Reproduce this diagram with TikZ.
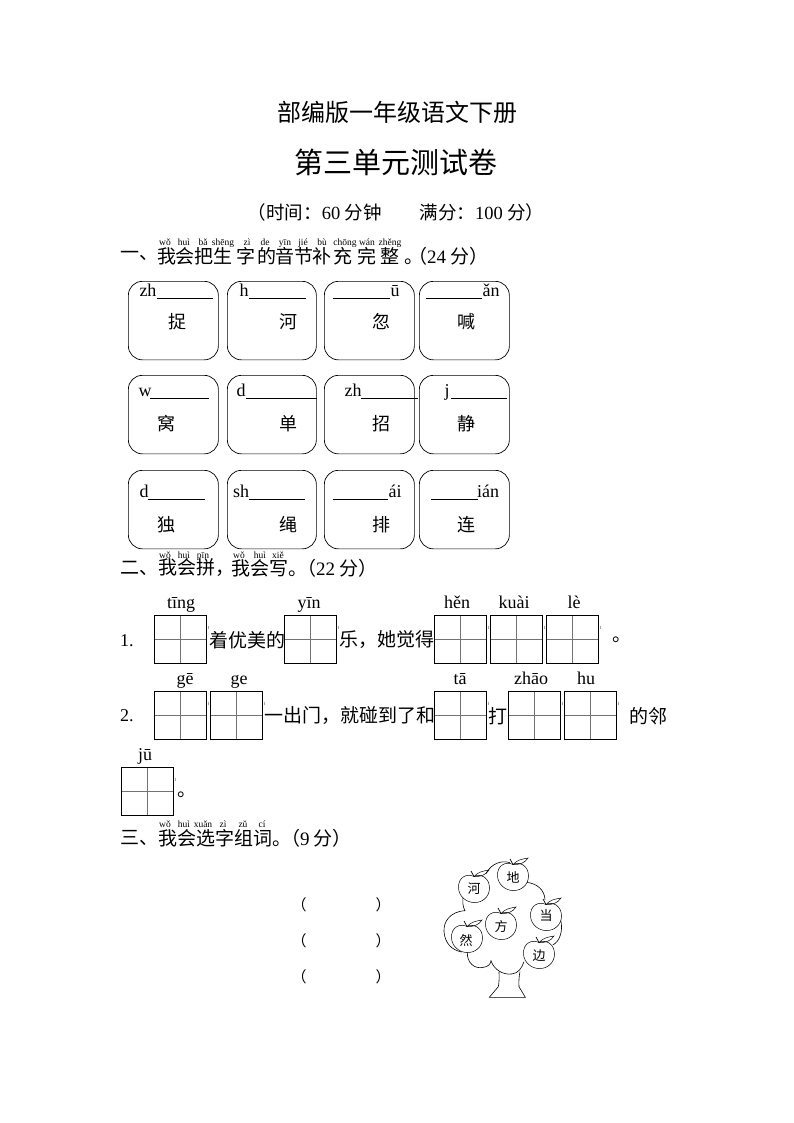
\documentclass[tikz,border=0pt]{standalone}
\usepackage{fontspec}
\setmainfont{Liberation Serif}
\newfontfamily\cjk{Noto Sans CJK SC}
\usetikzlibrary{positioning}
\tikzset{
  body/.style={inner sep=0pt, font=\fontsize{19}{19}\selectfont\cjk},
  cardchar/.style={inner sep=0pt, font=\fontsize{18}{18}\selectfont\cjk},
  py/.style={inner sep=0pt, anchor=base, font=\fontsize{9.5}{9.5}\selectfont},
  spell/.style={inner sep=0pt, anchor=base, font=\fontsize{18}{18}\selectfont},
  cellbox/.style={draw, line width=0.7pt, rounded corners=14pt, inner sep=0pt, minimum height=78.5pt},
  tianbox/.style={draw, line width=0.8pt, minimum width=52pt, minimum height=48pt, inner sep=0pt,
    path picture={\draw[black!55, line width=0.7pt]
      (path picture bounding box.north) -- (path picture bounding box.south)
      (path picture bounding box.west) -- (path picture bounding box.east);}},
  appletext/.style={inner sep=0pt, font=\fontsize{13}{13}\selectfont\cjk},
  apple/.pic={
    \draw[fill=white, line width=0.5pt] (0,-12.5) .. controls (-7,-16) and (-16,-12) .. (-15.5,-1)
      .. controls (-15,8) and (-7,13.5) .. (0,13.5) .. controls (8,14) and (15.5,8) .. (15.5,-1)
      .. controls (15.5,-11) and (7,-16) .. (0,-12.5) -- cycle;
    \draw[line width=0.7pt] (0,-12.5) -- (-3,-18);
    \draw[line width=0.5pt] (0,-12.5) .. controls (4,-17) and (9,-18) .. (15,-19)
      .. controls (12,-14) and (6,-12) .. (0,-12.5);
  }
}
\begin{document}
\begin{tikzpicture}[x=1pt, y=-1pt]
\useasboundingbox (0,0) rectangle (794,1123);
% titles
\node[inner sep=0pt, font=\fontsize{24}{24}\selectfont\cjk] (title) at (397,112) {部编版一年级语文下册};
\node[inner sep=0pt, font=\fontsize{29}{29}\selectfont\cjk] (subtitle) at (396,162) {第三单元测试卷};
\node[inner sep=0pt, font=\fontsize{18.5}{18.5}\selectfont\cjk] (score) at (396,212)
  {（时间：{\rmfamily 60} 分钟\hspace{38pt}满分：{\rmfamily 100} 分）};
% section one
\node[body, anchor=west] (headone) at (120,256) {一、};
\foreach \ch/\px/\pinyin/\qx in {我/167/wǒ/165, 会/185/huì/184, 把/204/bǎ/203, 生/223/shēng/223,
    字/246/zì/247, 的/267/de/265, 音/285/yīn/285, 节/304/jié/303, 补/322/bù/322,
    充/343/chōng/345, 完/367/wán/367, 整/390/zhěng/390} {
  \node[body] (a\px) at (\px,256) {\ch};
  \node[py] (b\px) at (\qx,245) {\pinyin};
}
\node[body, anchor=west] (markone) at (404,256) {。\hspace{-15pt}（{\rmfamily 24} 分）};
% spelling cards
\foreach \xa/\xb/\n in {128/218/1, 227/316/2, 324/414/3, 419/509/4} {
  \node[cellbox, minimum width=\xb pt-\xa pt, anchor=north west] (ra\n) at (\xa,281) {};
  \node[cellbox, minimum width=\xb pt-\xa pt, anchor=north west] (rb\n) at (\xa,375) {};
  \node[cellbox, minimum width=\xb pt-\xa pt, anchor=north west] (rc\n) at (\xa,470) {};
}
\foreach \ch/\px/\py in {捉/177/322, 河/288/322, 忽/381/322, 喊/466/322,
    窝/166/424, 单/288/424, 招/381/424, 静/466/424,
    独/166/525, 绳/288/525, 排/381/525, 连/466/525} {
  \node[cardchar] (c\px\py) at (\px,\py) {\ch};
}
\foreach \txt/\tx/\ty/\la/\lb in {zh/148/296/157/213, h/244/296/249/306, ū/395/296/333/390, ǎn/491/296/426/482,
    w/145/396/150/209, d/241/396/246/317, zh/353/396/361/418, j/447/396/451/507,
    d/144/497/148/205, sh/241/497/249/305, ái/395/497/333/388, ián/488/497/431/478} {
  \node[spell] (s\tx\ty) at (\tx,\ty) {\txt};
  \draw[line width=0.6pt] (\la,\ty+2) -- (\lb,\ty+2);
}
% section two
\node[body, anchor=west] (headtwo) at (120,568) {二、};
\node[body, anchor=west] (texttwo) at (158,568) {我会拼，};
\node[body, anchor=west] (texttwob) at (231,568) {我会写。\hspace{-10pt}（{\rmfamily 22} 分）};
\foreach \pinyin/\qx in {wǒ/165, huì/184, pīn/203, wǒ/239, huì/260, xiě/278} {
  \node[py] (d\qx) at (\qx,558) {\pinyin};
}
\foreach \tx/\ty/\pinyin/\qx in {180/639/tīng/181, 310/639/yīn/309, 460/639/hěn/457, 516/639/kuài/514, 572/639/lè/574,
    180/715/gē/185, 236/715/ge/239, 460/715/tā/460, 534/715/zhāo/531, 590/715/hu/586, 147/791/jū/145} {
  \node[tianbox] (g\tx\ty) at (\tx,\ty) {};
  \node[spell] (p\tx\ty) at (\qx,\ty-31) {\pinyin};
  \draw[black!35, line width=0.4pt] (g\tx\ty.north east) ++(1.5,11) -- ++(0,3);
}
\node[spell, anchor=west] (numa) at (120,641) {1.};
\node[spell, anchor=west] (numb) at (120,716) {2.};
\node[body, anchor=west] (linea) at (209,640) {着优美的};
\node[body, anchor=west] (lineb) at (339,640) {乐，她觉得};
\node[body] (linec) at (622,640) {。};
\node[body, anchor=west] (lined) at (264,716) {一出门，就碰到了和};
\node[body] (linee) at (498,716) {打};
\node[body, anchor=west] (linef) at (629,716) {的邻};
\node[body] (lineg) at (187,795) {。};
% section three
\node[body, anchor=west] (headthree) at (120,838) {三、};
\node[body, anchor=west] (textthree) at (158,838) {我会选字组词。\hspace{-10pt}（{\rmfamily 9} 分）};
\foreach \pinyin/\qx in {wǒ/165, huì/184, xuǎn/203, zì/223, zǔ/243, cí/262} {
  \node[py] (e\qx) at (\qx,827) {\pinyin};
}
\foreach \py in {904, 940, 976} {
  \node[body, font=\fontsize{15}{15}\selectfont\cjk] (l\py) at (299,\py+1) {（};
  \node[body, font=\fontsize{15}{15}\selectfont\cjk] (r\py) at (383,\py+1) {）};
}
% tree
\begin{scope}[shift={(420,850)}, x=0.3333pt, y=-0.3333pt, line width=0.6pt]
\draw (237,366) .. controls (238,385) and (237,400) .. (235,410) -- (208,442) -- (316,442) -- (297,410) .. controls (296,395) and (297,380) .. (300,365);
\draw (130,135) .. controls (127,155) and (128,170) .. (135,182) .. controls (90,185) and (70,215) .. (72,245)
  .. controls (75,280) and (95,300) .. (125,306);
\draw (142,305) .. controls (140,340) and (165,358) .. (190,352) .. controls (205,350) and (212,342) .. (213,332)
  .. controls (222,360) and (250,375) .. (275,372) .. controls (295,370) and (305,355) .. (312,335);
\draw (398,285) .. controls (420,275) and (430,240) .. (422,210);
\draw (320,97) .. controls (350,100) and (375,120) .. (375,150);
\draw (198,70) .. controls (215,40) and (245,30) .. (270,38);
\end{scope}
\pic at (474,889) {apple};
\pic at (513,877) {apple};
\pic at (546,917) {apple};
\pic at (501,926) {apple};
\pic at (467,939) {apple};
\pic at (539,955) {apple};
\foreach \ch/\px/\py in {河/474/889, 地/513/877, 当/546/916, 方/501/927, 然/466/941, 边/539/956} {
  \node[appletext] (t\px) at (\px,\py) {\ch};
}
\end{tikzpicture}
\end{document}
